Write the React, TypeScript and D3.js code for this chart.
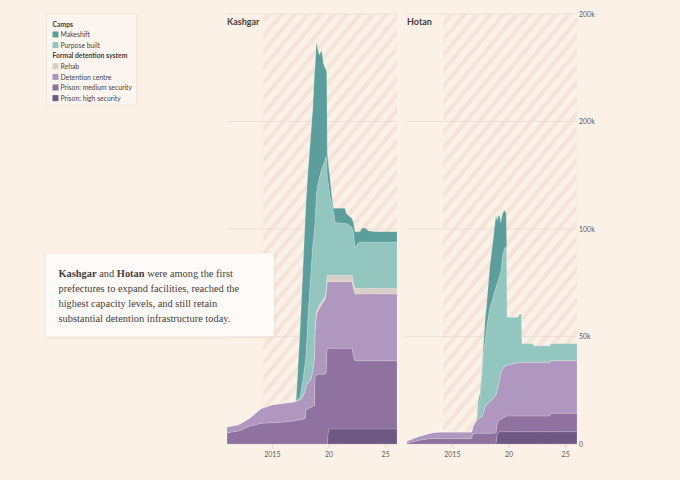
import React from 'react';
import * as d3 from 'd3';

// values in thousands of detainee places
const kashgarYears = [2011, 2012, 2013, 2014, 2015, 2016, 2017, 2017.1, 2017.45, 2017.7, 2017.9, 2017.97, 2018.15, 2018.4, 2018.56, 2018.72, 2018.76, 2018.9, 2019.03, 2019.15, 2019.25, 2019.36, 2019.5, 2019.65, 2019.75, 2019.8, 2019.85, 2019.95, 2020.1, 2020.25, 2020.4, 2020.55, 2021.4, 2021.55, 2022.0, 2022.05, 2022.15, 2022.3, 2022.5, 2022.75, 2022.9, 2023.25, 2023.45, 2024, 2026];
const kashgarHigh = [0, 0, 0, 0, 0, 0, 0, 0, 0, 0, 0, 0, 0, 0, 0, 0, 0, 0, 0, 0, 0, 0, 0, 0, 0, 0, 0, 7, 7, 7, 7, 7, 7, 7, 7, 7, 7, 7, 7, 7, 7, 7, 7, 7, 7];
const kashgarMedium = [5.2, 6, 8.3, 9.6, 9.9, 10.2, 10.8, 11, 11.3, 11.5, 12, 15.8, 16.5, 17, 17.5, 18, 31, 32, 32.5, 32.5, 32.5, 32.5, 32.5, 32.5, 33, 43, 44.5, 37.5, 37.5, 37.5, 37.5, 37.5, 37.5, 37.5, 37.5, 37.5, 34, 31.7, 31.7, 31.7, 31.7, 31.7, 31.7, 31.7, 31.7];
const kashgarDetention = [2.8, 3, 3.7, 6.9, 8.4, 8.8, 8.9, 9, 9.2, 10.5, 13, 11.2, 12, 13, 16.5, 22, 21, 28.5, 29.5, 30.5, 31.5, 32.5, 33.5, 34.5, 37, 30, 31, 31, 31, 31, 31, 31, 31, 31, 31, 31, 31.5, 31.1, 31.1, 31.1, 31.1, 31.1, 31.1, 31.1, 31.1];
const kashgarRehab = [0, 0, 0, 0, 0, 0, 0, 0, 0, 0, 0, 0, 0, 0, 0, 0, 1.5, 1.5, 1.5, 1.5, 1.5, 1.5, 1.5, 1.5, 1.5, 3, 3, 3, 3, 3, 3, 3, 3, 3, 3, 3, 2.6, 2.6, 2.6, 2.6, 2.6, 2.6, 2.6, 2.6, 2.6];
const kashgarPurpose = [0, 0, 0, 0, 0, 0, 0, 0, 1.5, 8, 13, 15, 31.5, 50, 58, 60, 49.5, 55, 57.5, 59.5, 60.5, 61.5, 62.5, 63.5, 62.5, 54, 45.5, 42.5, 36.5, 33.5, 29.5, 24.5, 24.1, 24.1, 22.5, 22, 23.9, 18.6, 20.9, 21.6, 21.6, 21.6, 21.6, 21.6, 21.6];
const kashgarMakeshift = [0, 0, 0, 0, 0, 0, 0, 0, 31, 51, 66, 70, 67, 64, 63, 72, 72, 70, 62, 57, 56, 55, 47, 43, 40, 42, 11, 9, 8, 3, 1.6, 6.6, 7, 4.4, 4, 4, 4, 7.7, 5.4, 4.7, 6.3, 6.3, 5.2, 4.7, 4.7];

const hotanYears = [2011, 2011.5, 2012, 2013, 2013.5, 2014, 2016.7, 2016.8, 2017.15, 2017.3, 2017.45, 2017.6, 2017.75, 2017.9, 2018.05, 2018.3, 2018.6, 2018.85, 2018.95, 2019.05, 2019.15, 2019.27, 2019.45, 2019.6, 2019.75, 2019.8, 2019.85, 2020.1, 2020.8, 2020.9, 2021.1, 2021.15, 2022.1, 2022.2, 2023.6, 2023.7, 2026];
const hotanHigh = [0, 0, 0, 0, 0, 0, 0, 0, 0, 0, 0, 0, 0, 0, 0, 0, 0, 0, 4.5, 5, 5.7, 5.7, 5.7, 5.7, 5.7, 5.7, 5.7, 5.7, 5.7, 5.7, 5.7, 5.7, 5.7, 5.7, 5.7, 5.7, 5.7];
const hotanMedium = [0.5, 1, 1.7, 2.5, 2.6, 2.6, 2.6, 4.8, 5, 5, 5, 5, 5, 5, 5, 5, 5, 5.2, 4.5, 5.5, 5.5, 5.8, 6.3, 6.8, 7.3, 7.3, 7.3, 7.3, 7.3, 7.3, 7.3, 7.3, 7.3, 7.3, 7.3, 8.6, 8.6];
const hotanDetention = [1, 1.5, 1.8, 2.5, 2.9, 3, 3, 3.2, 6.2, 6.8, 7.3, 7.7, 10, 12.4, 13.5, 14.7, 16.2, 17.8, 16, 16.5, 18.3, 21.5, 23, 23.5, 23.5, 23.6, 23.7, 24, 24.8, 25, 25, 25, 25, 25, 25, 24.5, 24.5];
const hotanRehab = hotanYears.map(() => 0);
const hotanPurpose = [0, 0, 0, 0, 0, 0, 0, 0, 0.3, 5.2, 9.7, 18.3, 27, 30.6, 36.5, 43.3, 47.3, 50, 49.7, 49, 48.3, 47, 53, 55, 55.3, 55.2, 22.3, 22, 21.2, 22.5, 22.5, 8.8, 8.8, 7.7, 7.7, 8, 8];
const hotanMakeshift = [0, 0, 0, 0, 0, 0, 0, 0, 0, 3, 2, 2, 4, 10, 11, 19, 26.5, 33.5, 29.3, 30, 28.7, 23, 19.3, 17.8, 15.5, 0, 0, 0, 0, 0, 0, 0, 0, 0, 0, 0, 0];

const yTicks = [0, 50, 100, 150, 200];
const yTickLabels = ['0', '50k', '100k', '200k', '200k'];
const xTicks = [2015, 2020, 2025];
const xTickLabels = ['2015', '20', '25'];
const hatchStart = 2014.2;

const keys = ['high', 'medium', 'detention', 'rehab', 'purpose', 'makeshift'];
const colors: Record<string, string> = {
  makeshift: '#5c9e9b',
  purpose: '#94c6c0',
  rehab: '#dacfc8',
  detention: '#b097bf',
  medium: '#8f72a0',
  high: '#6f5883',
};

const legendGroups = [
  { title: 'Camps', items: [['makeshift', 'Makeshift'], ['purpose', 'Purpose built']] },
  {
    title: 'Formal detention system',
    items: [
      ['rehab', 'Rehab'],
      ['detention', 'Detention centre'],
      ['medium', 'Prison: medium security'],
      ['high', 'Prison: high security'],
    ],
  },
];

const W = 680;
const H = 480;
const top = 14;
const bottom = 444;
const panelW = 170;
const sans = 'Lato, "Noto Sans", sans-serif';
const serif = '"Liberation Serif", "DejaVu Serif", serif';

type PanelProps = {
  name: string;
  left: number;
  years: number[];
  series: Record<string, number[]>;
  axis: boolean;
};

const Panel = ({ name, left, years, series, axis }: PanelProps) => {
  const x = d3.scaleLinear().domain([2011, 2026]).range([left, left + panelW]);
  const y = d3.scaleLinear().domain([0, 200]).range([bottom, top]);

  const rows = years.map((t, i) => {
    const r: any = { t };
    keys.forEach(k => (r[k] = series[k][i]));
    return r;
  });
  const stacked = d3.stack<any>().keys(keys)(rows);
  const area = d3.area<any>()
    .x(d => x(d.data.t))
    .y0(d => y(d[0]))
    .y1(d => y(d[1]));

  return (
    <g>
      <rect x={x(hatchStart)} y={top} width={x(2026) - x(hatchStart)} height={bottom - top} fill="url(#hatch)" />
      {yTicks.map(v => (
        <line key={v} x1={left} x2={left + panelW} y1={y(v)} y2={y(v)} stroke="#e9ddd3" strokeWidth={0.8} />
      ))}
      {stacked.map(s => (
        <path key={s.key} d={area(s) || ''} fill={colors[s.key]} stroke="#ffffff" strokeOpacity={0.3} strokeWidth={0.5} />
      ))}
      {xTicks.map((v, i) => (
        <g key={v}>
          <line x1={x(v)} x2={x(v)} y1={bottom} y2={bottom + 4} stroke="#d9cdc3" strokeWidth={0.7} />
          <text x={x(v)} y={457} textAnchor="middle" fontSize={7} fill="#625b57" fontFamily={sans}>{xTickLabels[i]}</text>
        </g>
      ))}
      <text x={left} y={25} fontSize={9} fontWeight={700} fill="#47403c" fontFamily={sans}>{name}</text>
      {axis && yTicks.map((v, i) => (
        <text key={v} x={left + panelW + 2} y={y(v) + 2.5} fontSize={7} fill="#625b57" fontFamily={sans}>{yTickLabels[i]}</text>
      ))}
    </g>
  );
};

const Legend = () => {
  let row = 0;
  const lineH = 10.6;
  const y0 = 26.5;
  return (
    <g>
      <rect x={46.5} y={14} width={90} height={91} fill="#fdf6f0" stroke="#ede1d7" strokeWidth={0.8} rx={1} />
      {legendGroups.map(g => {
        const els = [];
        els.push(
          <text key={g.title} x={52.5} y={y0 + row * lineH} fontSize={6.8} fontWeight={700} fill="#433c38" fontFamily={sans}>{g.title}</text>
        );
        row++;
        g.items.forEach(([k, label]) => {
          const yy = y0 + row * lineH;
          els.push(
            <g key={k}>
              <rect x={52.5} y={yy - 5.6} width={6} height={6} fill={colors[k]} />
              <text x={60.5} y={yy} fontSize={6.8} fill="#4a433f" fontFamily={sans}>{label}</text>
            </g>
          );
          row++;
        });
        return <g key={g.title}>{els}</g>;
      })}
    </g>
  );
};

const noteLines = [
  [['Kashgar', true], [' and ', false], ['Hotan', true], [' were among the first', false]],
  [['prefectures to expand facilities, reached the', false]],
  [['highest capacity levels, and still retain', false]],
  [['substantial detention infrastructure today.', false]],
];

const Note = () => (
  <g>
    <rect x={46} y={253.5} width={228} height={83} fill="#fefaf7" filter="url(#shadow)" />
    {noteLines.map((parts, i) => (
      <text key={i} x={58.5} y={276.5 + i * 15.3} fontSize={10.4} fill="#45403d" fontFamily={serif}>
        {parts.map(([t, b], j) => (
          <tspan key={j} fontWeight={b ? 700 : 400}>{t as string}</tspan>
        ))}
      </text>
    ))}
  </g>
);

export default function App() {
  const kashgar = {
    high: kashgarHigh, medium: kashgarMedium, detention: kashgarDetention,
    rehab: kashgarRehab, purpose: kashgarPurpose, makeshift: kashgarMakeshift,
  };
  const hotan = {
    high: hotanHigh, medium: hotanMedium, detention: hotanDetention,
    rehab: hotanRehab, purpose: hotanPurpose, makeshift: hotanMakeshift,
  };
  return (
    <div style={{ position: 'fixed', left: 0, top: 0, width: W, height: H, background: '#fcf1e6' }}>
      <svg width={W} height={H} style={{ display: 'block' }}>
        <defs>
          <pattern id="hatch" width={10} height={10} patternUnits="userSpaceOnUse" patternTransform="rotate(40)">
            <line x1={5} y1={0} x2={5} y2={10} stroke="#f4e4d9" strokeWidth={4.5} />
          </pattern>
          <filter id="shadow" x="-10%" y="-10%" width="120%" height="130%">
            <feDropShadow dx={0} dy={0.8} stdDeviation={1.5} floodColor="#8a6d55" floodOpacity={0.18} />
          </filter>
        </defs>
        <rect width={W} height={H} fill="#fcf1e6" />
        <Panel name="Kashgar" left={227} years={kashgarYears} series={kashgar} axis={false} />
        <Panel name="Hotan" left={407} years={hotanYears} series={hotan} axis={true} />
        <Legend />
        <Note />
      </svg>
    </div>
  );
}
